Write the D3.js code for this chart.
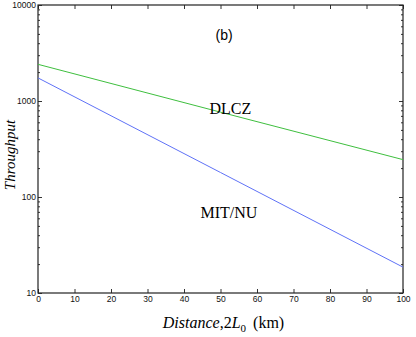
<!DOCTYPE html>
<html>
<head>
<meta charset="utf-8">
<script src="https://cdn.jsdelivr.net/npm/d3@7"></script>
<style>
body { margin: 0; background: #fff; }
.tick text { font-family: "Liberation Sans", Arial, sans-serif; font-size: 8.5px; fill: #111; }
</style>
</head>
<body>
<div id="chart"></div>
<script>
// values
const distance = [0, 50, 100];
const dlcz = [2410, 765, 245];
const mitnu = [1740, 180, 18.6];
const xTicks = [0, 10, 20, 30, 40, 50, 60, 70, 80, 90, 100];
const yTicks = [10, 100, 1000, 10000];

const margin = {top: 5, right: 13, bottom: 44, left: 38},
  width = 416 - margin.left - margin.right,
  height = 337 - margin.top - margin.bottom;

const svg = d3.select("#chart").append("svg")
  .attr("width", 416).attr("height", 337)
  .append("g")
  .attr("transform", `translate(${margin.left},${margin.top})`);

const x = d3.scaleLinear().domain([0, 100]).range([0, width]);
const y = d3.scaleLog().domain([10, 10000]).range([height, 0]);

// x axis bottom with labels, top without
svg.append("g")
  .attr("transform", `translate(0,${height})`)
  .call(d3.axisBottom(x).tickValues(xTicks).tickSize(-4).tickPadding(3))
  .call(g => g.select(".domain").remove());
svg.append("g")
  .call(d3.axisTop(x).tickValues(xTicks).tickSize(-4).tickFormat(""))
  .call(g => g.select(".domain").remove());

// y axis: major ticks labelled, minor ticks shorter
const minor = y.ticks().filter(v => !yTicks.includes(v));
svg.append("g")
  .call(d3.axisLeft(y).tickValues(yTicks).tickSize(-4).tickPadding(2).tickFormat(d3.format("d")))
  .call(g => g.select(".domain").remove());
svg.append("g")
  .call(d3.axisLeft(y).tickValues(minor).tickSize(-2).tickFormat(""))
  .call(g => g.select(".domain").remove());
svg.append("g")
  .attr("transform", `translate(${width},0)`)
  .call(d3.axisRight(y).tickValues(yTicks).tickSize(-4).tickFormat(""))
  .call(g => g.select(".domain").remove());
svg.append("g")
  .attr("transform", `translate(${width},0)`)
  .call(d3.axisRight(y).tickValues(minor).tickSize(-2).tickFormat(""))
  .call(g => g.select(".domain").remove());

svg.selectAll(".tick line").attr("stroke", "#333").attr("stroke-width", 1);

// frame
svg.append("rect")
  .attr("width", width).attr("height", height)
  .attr("fill", "none").attr("stroke", "#222").attr("stroke-width", 1.2);

const line = d3.line().x(d => x(d[0])).y(d => y(d[1]));

svg.append("path")
  .datum(distance.map((d, i) => [d, dlcz[i]]))
  .attr("d", line).attr("fill", "none")
  .attr("stroke", "#3fbf3f").attr("stroke-width", 1);
svg.append("path")
  .datum(distance.map((d, i) => [d, mitnu[i]]))
  .attr("d", line).attr("fill", "none")
  .attr("stroke", "#5f72f7").attr("stroke-width", 1);

// annotations
svg.append("text")
  .attr("x", x(51)).attr("y", y(5000) + 6)
  .attr("text-anchor", "middle")
  .style("font-family", "Liberation Sans, Arial, sans-serif")
  .style("font-size", "14px")
  .text("(b)");
svg.append("text")
  .attr("x", x(52.7)).attr("y", y(830) + 5)
  .attr("text-anchor", "middle")
  .style("font-family", "Liberation Serif, Times New Roman, serif")
  .style("font-size", "16px")
  .text("DLCZ");
svg.append("text")
  .attr("x", x(52.3)).attr("y", y(68) + 5)
  .attr("text-anchor", "middle")
  .style("font-family", "Liberation Serif, Times New Roman, serif")
  .style("font-size", "16px")
  .text("MIT/NU");

// axis titles
const xt = svg.append("text")
  .attr("x", width / 2 + 3).attr("y", height + 35)
  .attr("text-anchor", "middle")
  .style("font-family", "Liberation Serif, Times New Roman, serif")
  .style("font-size", "16px");
xt.append("tspan").style("font-style", "italic").text("Distance");
xt.append("tspan").text(",2");
xt.append("tspan").style("font-style", "italic").text("L");
xt.append("tspan").attr("dy", 4).style("font-size", "11px").text("0");
xt.append("tspan").attr("dy", -4).attr("dx", 7).text("(km)");

svg.append("text")
  .attr("transform", `translate(${-23},${height / 2 + 6}) rotate(-90)`)
  .attr("text-anchor", "middle")
  .style("font-family", "Liberation Serif, Times New Roman, serif")
  .style("font-style", "italic")
  .style("font-size", "15px")
  .text("Throughput");
</script>
</body>
</html>
